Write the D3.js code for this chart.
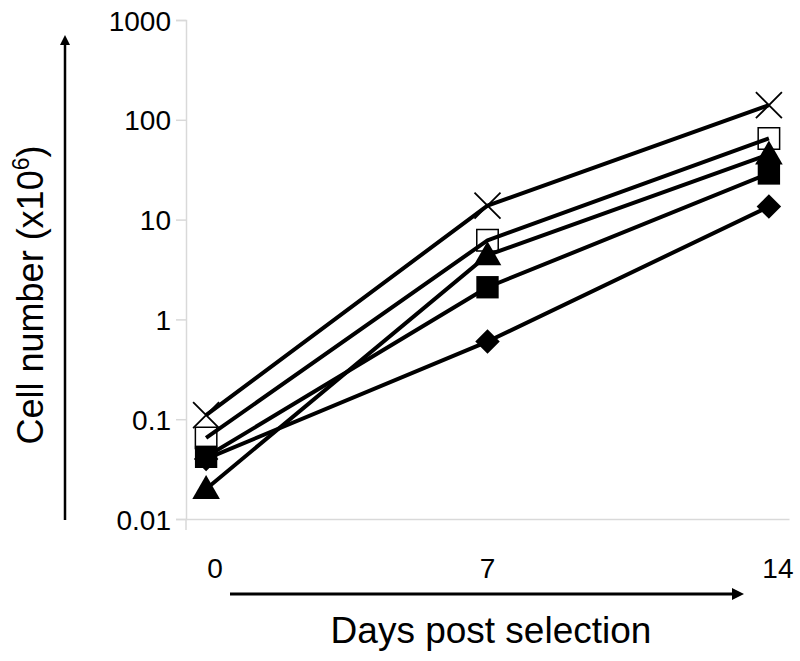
<!DOCTYPE html>
<html><head><meta charset="utf-8">
<script src="https://cdn.jsdelivr.net/npm/d3@7"></script>
<style>body{margin:0;background:#fff}svg{display:block}text{font-family:Arial,"Liberation Sans",sans-serif;fill:#000}</style>
</head><body>
<svg id="c" width="800" height="661"></svg>
<script>
const days = [0, 7, 14];
const yTicks = [0.01, 0.1, 1, 10, 100, 1000];
const yTickLabels = ["0.01", "0.1", "1", "10", "100", "1000"];
const xTickLabels = ["0", "7", "14"];
const seriesNames = ["diamond", "filledSquare", "triangle", "openSquare", "cross"];
const diamondVals = [0.04, 0.6, 13.5];
const filledSquareVals = [0.042, 2.1, 29];
const triangleVals = [0.02, 4.4, 45];
const openSquareVals = [0.065, 6.2, 65];
const crossVals = [0.11, 13.8, 140];
const seriesVals = [diamondVals, filledSquareVals, triangleVals, openSquareVals, crossVals];

const svg = d3.select("#c");
const x = d3.scaleLinear().domain([-0.5, 14.5]).range([186, 789]);
const y = d3.scaleLog().domain([0.01, 1000]).range([519, 20]);

// axes (light gray)
const gy = svg.append("g").attr("transform", "translate(186,0)")
  .call(d3.axisLeft(y).tickValues(yTicks).tickFormat((d,i)=>yTickLabels[i]).tickSize(10).tickPadding(5));
gy.select(".domain").attr("stroke", "#d9d9d9").attr("stroke-width", 1.5);
gy.selectAll(".tick line").attr("stroke", "#d9d9d9").attr("stroke-width", 1.5);
gy.selectAll(".tick text").style("font-size", "28px").attr("dy", "0.36em");

const gx = svg.append("g").attr("transform", "translate(0,519)")
  .call(d3.axisBottom(x).tickValues([]).tickSizeOuter(0));
gx.select(".domain").attr("stroke", "#d9d9d9").attr("stroke-width", 1.5);
svg.append("line").attr("x1",186).attr("x2",186).attr("y1",519).attr("y2",530).attr("stroke","#d9d9d9").attr("stroke-width",1.5);

// x tick labels
const xOff = [9, 0, 9];
svg.selectAll(".xl").data(days).join("text")
  .attr("x", (d,i) => x(d) + xOff[i])
  .attr("y", 578).attr("text-anchor", "middle").style("font-size", "28px")
  .text((d,i) => xTickLabels[i]);

// arrows
const defs = svg.append("defs");
defs.append("marker").attr("id","ah").attr("viewBox","0 0 10 10").attr("refX",5).attr("refY",5)
  .attr("markerWidth",4).attr("markerHeight",4).attr("orient","auto")
  .append("path").attr("d","M0,0 L10,5 L0,10 z").attr("fill","#000");
svg.append("line").attr("x1",230).attr("y1",594).attr("x2",738).attr("y2",594)
  .attr("stroke","#000").attr("stroke-width",3).attr("marker-end","url(#ah)");
svg.append("line").attr("x1",65).attr("y1",520).attr("x2",65).attr("y2",40)
  .attr("stroke","#000").attr("stroke-width",2.5).attr("marker-end","url(#ah)");

// axis titles
svg.append("text").attr("x", 491).attr("y", 643).attr("text-anchor","middle").style("font-size","37px").text("Days post selection");
const yt = svg.append("text").attr("transform","translate(43,295) rotate(-90)").attr("text-anchor","middle").style("font-size","36px");
yt.append("tspan").text("Cell number (x10");
yt.append("tspan").attr("dy",-14).style("font-size","23px").text("6");
yt.append("tspan").attr("dy",14).text(")");

// lines
const line = d3.line().x((d,i) => x(days[i])).y(d => y(d));
svg.selectAll(".ln").data(seriesVals).join("path")
  .attr("d", line).attr("fill","none").attr("stroke","#000").attr("stroke-width",4).attr("stroke-linejoin","round");

// markers
seriesNames.forEach((name, si) => {
  const g = svg.append("g");
  seriesVals[si].forEach((v, i) => {
    const cx = x(days[i]), cy = y(v);
    const p = g.append("path");
    if (name === "diamond") p.attr("d", d3.symbol().type(d3.symbolSquare).size(300)()).attr("fill","#000").attr("transform", `translate(${cx},${cy}) rotate(45)`);
    else if (name === "filledSquare") p.attr("d", d3.symbol().type(d3.symbolSquare).size(500)()).attr("fill","#000").attr("transform", `translate(${cx},${cy})`);
    else if (name === "triangle") p.attr("d", d3.symbol().type(d3.symbolTriangle).size(330)()).attr("fill","#000").attr("transform", `translate(${cx},${cy+2})`);
    else if (name === "openSquare") p.attr("d", d3.symbol().type(d3.symbolSquare).size(460)()).attr("fill","none").attr("stroke","#000").attr("stroke-width",1.5).attr("transform", `translate(${cx},${cy})`);
    else {
      const s = 13;
      p.attr("d", `M${-s},${-s}L${s},${s}M${-s},${s}L${s},${-s}`).attr("stroke","#000").attr("stroke-width",1.8).attr("fill","none").attr("transform", `translate(${cx},${cy})`);
    }
  });
});
</script>
</body></html>
